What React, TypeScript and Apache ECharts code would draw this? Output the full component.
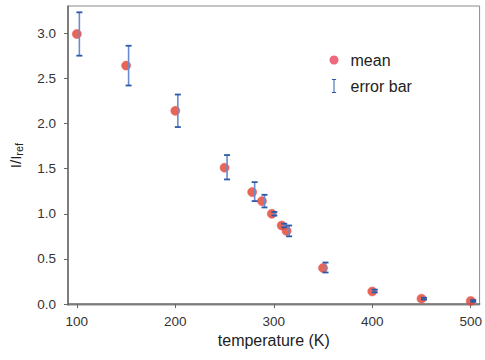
import React, { useEffect, useRef } from "react";
import * as echarts from "echarts";

const temps = [100, 150, 200, 250, 278, 288, 298, 308, 313, 350, 400, 450, 500];
const means = [2.99, 2.64, 2.14, 1.51, 1.24, 1.14, 1.0, 0.87, 0.81, 0.4, 0.14, 0.06, 0.035];
const errLow = [2.75, 2.42, 1.96, 1.38, 1.14, 1.07, 0.98, 0.85, 0.75, 0.35, 0.13, 0.05, 0.025];
const errHigh = [3.23, 2.86, 2.32, 1.65, 1.35, 1.21, 1.02, 0.89, 0.87, 0.46, 0.16, 0.07, 0.045];
const xTicks = [100, 200, 300, 400, 500];
const yTicks = [0, 0.5, 1.0, 1.5, 2.0, 2.5, 3.0];

const FONT = "'Liberation Sans', Arial, sans-serif";
const ICON_ERR = "path://M0,0H6V1.5H3.7V18.5H6V20H0V18.5H2.3V1.5H0Z";

export default function App() {
  const ref = useRef<HTMLDivElement>(null);
  useEffect(() => {
    if (!ref.current) return;
    const chart = echarts.init(ref.current, null, { renderer: "svg" });
    const meanData = temps.map((t, i) => [t, means[i]]);
    const errData = temps.map((t, i) => [t, errLow[i], errHigh[i]]);
    chart.setOption({
      animation: false,
      textStyle: { fontFamily: FONT },
      grid: {
        left: 68,
        right: 4,
        top: 6,
        bottom: 55,
        show: true,
        borderColor: "#8a8a8a",
        borderWidth: 1,
      },
      legend: {
        orient: "vertical",
        left: 324.5,
        top: 47,
        itemGap: 10,
        itemWidth: 9,
        itemHeight: 14,
        textStyle: { fontFamily: FONT, fontSize: 16, color: "#222", padding: [0, 0, 0, 7] },
        data: [
          { name: "mean", icon: "circle", itemStyle: { color: "#e8435a", borderWidth: 0 } },
          { name: "error bar", icon: ICON_ERR, itemStyle: { color: "#2c5aa8" } },
        ],
      },
      xAxis: {
        type: "value",
        min: 91,
        max: 509,
        name: "temperature (K)",
        nameLocation: "middle",
        nameGap: 27,
        nameTextStyle: { fontFamily: FONT, fontSize: 16, color: "#222" },
        axisLine: { show: true, lineStyle: { color: "#666", width: 1.5 } },
        axisTick: { show: true, length: 4, customValues: xTicks, lineStyle: { color: "#666" } },
        axisLabel: {
          customValues: xTicks,
          margin: 9,
          fontSize: 13.5,
          color: "#333",
          fontFamily: FONT,
        },
        splitLine: { show: false },
      },
      yAxis: {
        type: "value",
        min: -0.01,
        max: 3.3,
        name: "{a|I/I}{b|ref}",
        nameLocation: "middle",
        nameRotate: 90,
        nameGap: 44,
        nameTextStyle: {
          fontFamily: FONT,
          color: "#222",
          rich: {
            a: { fontSize: 15, fontFamily: FONT, color: "#222" },
            b: { fontSize: 11, fontFamily: FONT, color: "#222", verticalAlign: "bottom", padding: [6, 0, 0, 0] },
          },
        },
        axisLine: { show: true, lineStyle: { color: "#666", width: 1.5 } },
        axisTick: { show: true, length: 4, customValues: yTicks, lineStyle: { color: "#666" } },
        axisLabel: {
          customValues: yTicks,
          margin: 12,
          fontSize: 13.5,
          color: "#333",
          fontFamily: FONT,
          formatter: (v: number) => v.toFixed(1),
        },
        splitLine: { show: false },
      },
      series: [
        {
          name: "mean",
          type: "scatter",
          data: meanData,
          symbol: "circle",
          symbolSize: 9,
          itemStyle: { color: "#e2402a", borderColor: "rgba(232,80,90,0.9)", borderWidth: 0.7 },
          z: 2,
        },
        {
          name: "error bar",
          type: "custom",
          data: errData,
          z: 3,
          itemStyle: { color: "#2c5aa8" },
          encode: { x: 0, y: [1, 2] },
          renderItem: (params: any, api: any) => {
            const x = api.value(0);
            const lo = api.coord([x, api.value(1)]);
            const hi = api.coord([x, api.value(2)]);
            const px = lo[0] + 2.5;
            const hw = 3;
            return {
              type: "group",
              children: [
                {
                  type: "line",
                  shape: { x1: px, y1: hi[1], x2: px, y2: lo[1] },
                  style: { stroke: "#6a8bcc", lineWidth: 1.6 },
                },
                {
                  type: "line",
                  shape: { x1: px - hw, y1: hi[1], x2: px + hw, y2: hi[1] },
                  style: { stroke: "#2c5aa8", lineWidth: 1.8 },
                },
                {
                  type: "line",
                  shape: { x1: px - hw, y1: lo[1], x2: px + hw, y2: lo[1] },
                  style: { stroke: "#2c5aa8", lineWidth: 1.8 },
                },
              ],
            };
          },
        },
      ],
    });
    return () => chart.dispose();
  }, []);
  return <div ref={ref} style={{ width: 485, height: 360, position: "absolute", left: 0, top: 0 }} />;
}
